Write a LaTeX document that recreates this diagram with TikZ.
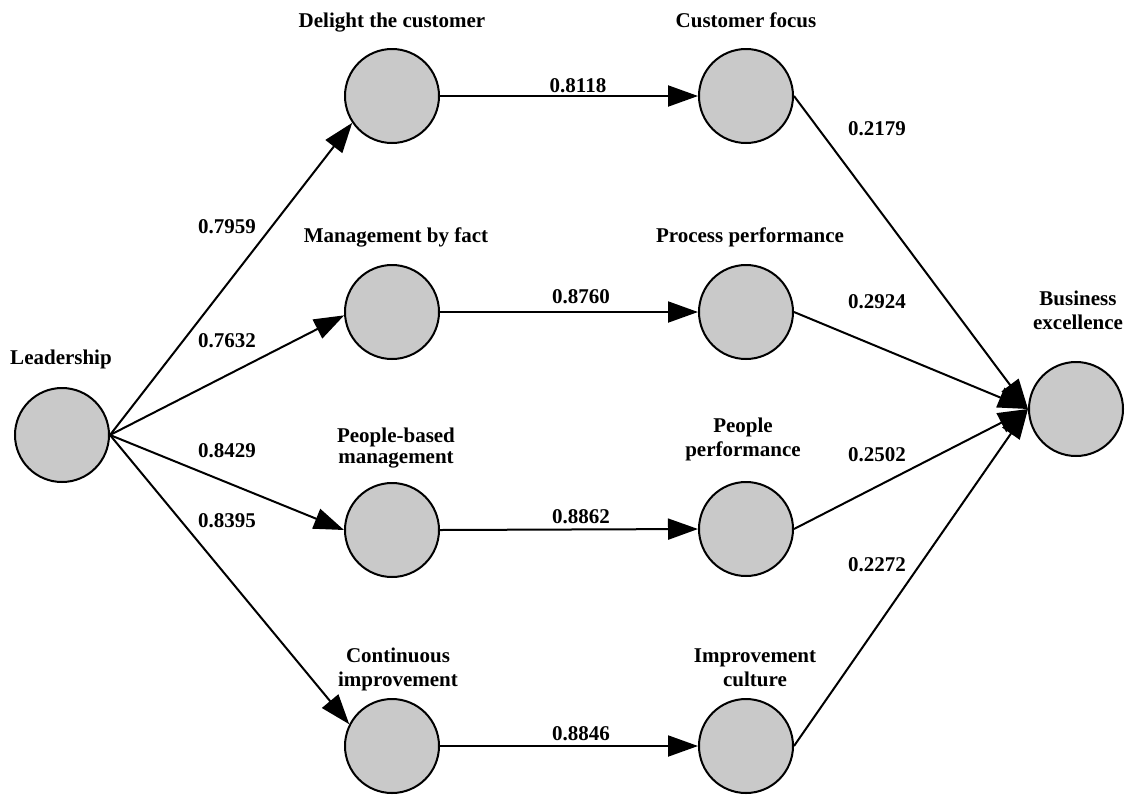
\documentclass[tikz,border=0pt]{standalone}
\usepackage{fontspec}
\setmainfont{Liberation Serif}
\usetikzlibrary{arrows.meta}
\tikzset{
  circ/.style={circle, draw=black, line width=2pt, fill=black!21, minimum size=94pt, inner sep=0pt},
  lab/.style={font=\fontsize{21}{23.5}\selectfont\bfseries, inner sep=0pt, anchor=base, align=center},
  labtight/.style={lab, font=\fontsize{21}{21}\selectfont\bfseries},
  val/.style={font=\fontsize{21}{23.5}\selectfont\bfseries, inner sep=0pt, anchor=base},
  edge/.style={line width=2pt, -{Triangle[length=30pt,width=21pt]}}
}
\begin{document}
\begin{tikzpicture}[x=1pt,y=-1pt]
\useasboundingbox (0,0) rectangle (1130,796);
% circles
\node[circ] (lead) at (62,435) {};
\node[circ] (dc) at (392,96) {};
\node[circ] (mf) at (392,312) {};
\node[circ] (pb) at (392,530) {};
\node[circ] (ci) at (392,746) {};
\node[circ] (cf) at (746,96) {};
\node[circ] (pp) at (746,312) {};
\node[circ] (pe) at (746,529) {};
\node[circ] (ic) at (746,746) {};
\node[circ] (be) at (1076,409) {};
% labels
\node[lab] (leadl) at (61,364) {Leadership};
\node[lab] (dcl) at (392,27) {Delight the customer};
\node[lab] (cfl) at (746,27) {Customer focus};
\node[lab] (mfl) at (396,242) {Management by fact};
\node[lab] (ppl) at (750,242) {Process performance};
\node[labtight] (pbl) at (396,463) {People-based\\management};
\node[lab] (pel) at (743,456) {People\\performance};
\node[lab] (cil) at (398,686) {Continuous\\improvement};
\node[lab] (icl) at (755,686) {Improvement\\culture};
\node[lab] (bel) at (1078,329) {Business\\excellence};
% connectors
\draw[edge] (lead.east) -- (dc.214);
\draw[edge] (lead.east) -- (mf.184);
\draw[edge] (lead.east) -- (pb.west);
\draw[edge] (lead.east) -- (ci.153);
\draw[edge] (dc.east) -- (cf.west);
\draw[edge] (mf.east) -- (pp.west);
\draw[edge] (pb.east) -- (pe.west);
\draw[edge] (ci.east) -- (ic.west);
\draw[edge] (cf.east) -- (be.west);
\draw[edge] (pp.east) -- (be.west);
\draw[edge] (pe.east) -- (be.west);
\draw[edge] (ic.east) -- (be.west);
% values
\node[val] (v1) at (227,233) {0.7959};
\node[val] (v2) at (227,347) {0.7632};
\node[val] (v3) at (227,457) {0.8429};
\node[val] (v4) at (227,527) {0.8395};
\node[val] (v5) at (578,92) {0.8118};
\node[val] (v6) at (581,303) {0.8760};
\node[val] (v7) at (581,523) {0.8862};
\node[val] (v8) at (581,740) {0.8846};
\node[val] (v9) at (877,135) {0.2179};
\node[val] (v10) at (877,308) {0.2924};
\node[val] (v11) at (877,461) {0.2502};
\node[val] (v12) at (877,571) {0.2272};
\end{tikzpicture}
\end{document}
